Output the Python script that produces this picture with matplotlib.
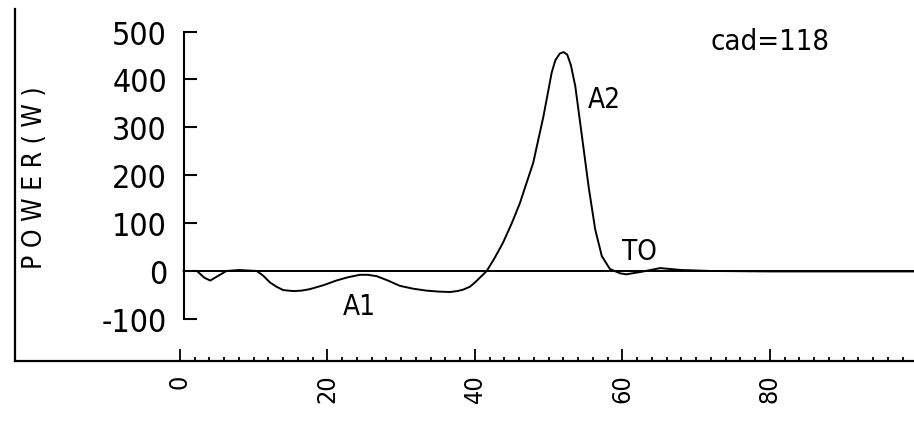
import numpy as np
import matplotlib
matplotlib.use("Agg")
from matplotlib import pyplot as plt
from matplotlib import font_manager
from matplotlib.ticker import FixedLocator, NullLocator

# crank angle vs power
crank = [0.5, 2.3, 3.3, 4.1, 5.2, 6.3, 8.0, 10.4, 11.3, 12.2, 13.1, 14.0, 15.4, 16.5, 17.6,
         19.4, 21.2, 22.8, 24.4, 25.5, 26.7, 28.2, 29.8, 31.6, 33.4, 35.0, 36.6, 37.6, 38.4,
         39.3, 40.0, 40.8, 41.6, 42.7, 43.8, 45.0, 46.1, 47.9, 49.3, 50.4, 50.9, 51.5, 52.0,
         52.5, 53.0, 53.6, 54.5, 55.4, 56.3, 57.2, 58.3, 59.7, 60.5, 62.5, 65.1, 68.0, 72.0,
         80.0, 90.0, 100.0]
power = [0, 0, -14, -20, -10, 0, 2, 0, -10, -24, -33, -40, -42, -41, -38,
         -30, -20, -13, -8, -8, -11, -20, -31, -37, -41, -43, -44, -42, -39,
         -33, -24, -12, 0, 28, 59, 100, 142, 226, 324, 414, 440, 454, 457,
         452, 430, 386, 282, 177, 87, 31, 4, -5, -7, -2, 6, 2, 0,
         -1, -1, -1]

y_ticks = [-100, 0, 100, 200, 300, 400, 500]
x_ticks = [0, 20, 40, 60, 80, 100]
x_minor = list(range(0, 101, 2))

# the scan uses a tall plotter font, a condensed regular face is the closest
narrow = [f for f in font_manager.fontManager.ttflist
          if (f.stretch in ("condensed", "semi-condensed") or "Narrow" in f.name)
          and f.weight in (400, "normal", "regular", "book") and f.style == "normal"]
if narrow:
    FONT = font_manager.FontProperties(fname=narrow[0].fname)
else:
    FONT = font_manager.FontProperties(family="DejaVu Sans")


def fp(size):
    p = FONT.copy()
    p.set_size(size)
    return p


fig = plt.figure(figsize=(9.14, 4.35), dpi=100)
ax = fig.add_axes([15 / 914, 1 - 362 / 435, 1 - 15 / 914, (362 - 10) / 435])
ax.set_xlim(-22.37, 99.53)
ax.set_ylim(-188, 547)

ax.plot(crank, power, color="black", linewidth=1.4)
ax.axhline(0, xmin=(0.5 + 22.37) / (99.53 + 22.37), color="black", linewidth=1.4)

for s in ["top", "right"]:
    ax.spines[s].set_visible(False)
for s in ["left", "bottom"]:
    ax.spines[s].set_linewidth(1.6)

# outer frame: x axis with ticks pointing up, left line without ticks
ax.yaxis.set_major_locator(NullLocator())
ax.xaxis.set_major_locator(FixedLocator(x_ticks))
ax.xaxis.set_minor_locator(FixedLocator(x_minor))
ax.set_xticklabels([str(v) for v in x_ticks], rotation=90, va="top", ha="center",
                   fontproperties=fp(18))
ax.tick_params(axis="x", which="major", direction="in", length=9, width=1.3, pad=9)
ax.tick_params(axis="x", which="minor", direction="in", length=3, width=1.3)

# inner power axis bracket, ticks pointing right
sec = ax.secondary_yaxis(0.5, transform=ax.transData)
sec.yaxis.set_ticks_position("left")
for s in ["left", "right"]:
    sec.spines[s].set_bounds(-100, 500)
    sec.spines[s].set_linewidth(1.5)
sec.set_yticks(y_ticks)
sec.set_yticklabels([str(v) for v in y_ticks], fontproperties=fp(23))
sec.tick_params(axis="y", direction="in", length=9.5, width=1.5, pad=12)

fig.text(35 / 914, 1 - 178 / 435, "P O W E R ( W )", rotation=90, ha="center", va="center",
         fontproperties=fp(19))

ax.text(24.3, -74, "A1", ha="center", va="center", fontproperties=fp(20))
ax.text(57.6, 359, "A2", ha="center", va="center", fontproperties=fp(20))
ax.text(62.3, 42, "TO", ha="center", va="center", fontproperties=fp(20))
ax.text(71.9, 480, "cad=118", ha="left", va="center", fontproperties=fp(21))

fig.savefig("out.png", dpi=100, facecolor="white")
